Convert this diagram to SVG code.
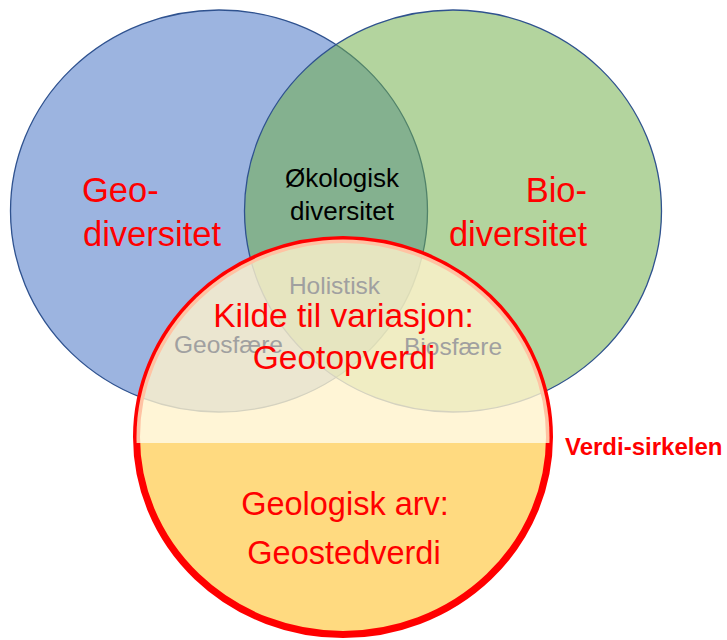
<svg xmlns="http://www.w3.org/2000/svg" width="727" height="640" viewBox="0 0 727 640">
  <style>
    .set { stroke: #2F528F; stroke-width: 1.3; fill-opacity: 0.53; }
    .big { font-family: "Liberation Sans", Arial, sans-serif; fill: #FF0000; }
    .blk { font-family: "Liberation Sans", Arial, sans-serif; fill: #000000; font-size: 26px; text-anchor: middle; }
    .gry { font-family: "Liberation Sans", Arial, sans-serif; fill: #A0A0A0; font-size: 24.5px; }
  </style>
  <defs>
    <clipPath id="topHalf"><rect x="0" y="0" width="727" height="443"/></clipPath>
    <clipPath id="bottomHalf"><rect x="0" y="443" width="727" height="200"/></clipPath>
  </defs>
  <rect width="727" height="640" fill="#FFFFFF"/>

  <g id="geodiversitet">
    <ellipse class="set" cx="219" cy="211" rx="208.5" ry="201" fill="#4472C4"/>
    <text class="big" x="82" y="202" font-size="34.5">Geo-</text>
    <text class="big" x="83" y="246" font-size="34.5">diversitet</text>
  </g>

  <g id="biodiversitet">
    <ellipse class="set" cx="453" cy="211" rx="208.5" ry="201" fill="#70AD47"/>
    <text class="big" x="587" y="202" font-size="34.5" text-anchor="end">Bio-</text>
    <text class="big" x="587" y="246" font-size="34.5" text-anchor="end">diversitet</text>
  </g>

  <g id="okologisk">
    <text class="blk" x="342" y="187">Økologisk</text>
    <text class="blk" x="342" y="220">diversitet</text>
  </g>

  <g id="verdi-sirkelen">
    <ellipse cx="343" cy="437" rx="206.5" ry="197.5" fill="#FFDA80" clip-path="url(#bottomHalf)"/>
    <ellipse cx="343" cy="437" rx="206.5" ry="197.5" fill="none" stroke="#FF0000" stroke-width="7"/>
    <ellipse cx="343" cy="437" rx="206.5" ry="197.5" fill="#FFF2CC" fill-opacity="0.8" clip-path="url(#topHalf)"/>
    <text class="big" x="565" y="455" font-size="24" font-weight="bold">Verdi-sirkelen</text>
  </g>

  <g id="holistisk">
    <text class="gry" x="334.5" y="294" font-size="25.5" text-anchor="middle">Holistisk</text>
  </g>
  <g id="geosfaere">
    <text class="gry" x="174" y="353">Geosfære</text>
  </g>
  <g id="biosfaere">
    <text class="gry" x="404" y="355">Biosfære</text>
  </g>

  <g id="geotopverdi">
    <text class="big" x="343.5" y="327" font-size="33.5" text-anchor="middle">Kilde til variasjon:</text>
    <text class="big" x="344" y="369" font-size="33.5" text-anchor="middle">Geotopverdi</text>
  </g>

  <g id="geostedverdi">
    <text class="big" x="345" y="515" font-size="32.5" text-anchor="middle">Geologisk arv:</text>
    <text class="big" x="344" y="564" font-size="32.5" text-anchor="middle">Geostedverdi</text>
  </g>
</svg>
